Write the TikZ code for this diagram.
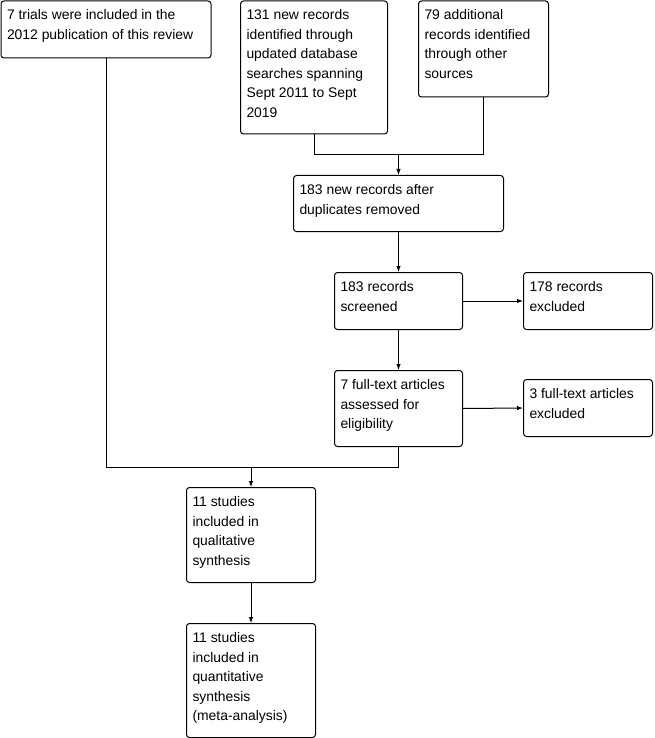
\documentclass[tikz,border=0pt]{standalone}
\usepackage{fontspec}
\setmainfont{Liberation Sans}
\usetikzlibrary{positioning, arrows.meta}

\newcommand{\flowfont}{\fontsize{13.9}{19.5}\selectfont}
\newcommand{\boxtxt}[3]{\parbox[t][#2pt][t]{#1pt}{\raggedright\rule{0pt}{19pt}#3}}

\begin{document}
\begin{tikzpicture}[x=1pt, y=-1pt,
        flowbox/.style={draw, line width=1pt, rounded corners=3pt, anchor=north west,
                        inner xsep=6pt, inner ysep=0pt, font=\flowfont},
        flowline/.style={line width=1pt},
        flowarrow/.style={line width=1pt, -{Latex[length=6pt, width=4.5pt]}}]
    \useasboundingbox (0,0) rectangle (655,738);

    % identification
    \node[flowbox] (oldtrials) at (0.5,0.5) {\boxtxt{198}{57}{7 trials were included in the\\2012 publication of this review}};
    \node[flowbox] (dbrecords) at (240,0.5) {\boxtxt{135}{133}{131 new records\\identified through\\updated database\\searches spanning\\Sept 2011 to Sept\\2019}};
    \node[flowbox] (otherrecords) at (418,0.5) {\boxtxt{118}{96}{79 additional\\records identified\\through other\\sources}};

    % screening
    \node[flowbox] (dedup) at (293,175) {\boxtxt{198}{56}{183 new records after\\duplicates removed}};
    \node[flowbox] (screened) at (334,272) {\boxtxt{116}{57}{183 records\\screened}};
    \node[flowbox] (recexcluded) at (523,272) {\boxtxt{117}{57}{178 records\\excluded}};

    % eligibility
    \node[flowbox] (fulltext) at (334,370) {\boxtxt{116}{76}{7 full-text articles\\assessed for\\eligibility}};
    \node[flowbox] (ftexcluded) at (523,379) {\boxtxt{117}{57}{3 full-text articles\\excluded}};

    % included
    \node[flowbox] (qualitative) at (186,487) {\boxtxt{117}{95}{11 studies\\included in\\qualitative\\synthesis}};
    \node[flowbox] (quantitative) at (186,623) {\boxtxt{117}{114}{11 studies\\included in\\quantitative\\synthesis\\(meta-analysis)}};

    % connectors
    \coordinate (mergetop) at (dedup.north |- 0,155);
    \draw[flowline] (dbrecords.south) |- (otherrecords.south |- mergetop) -- (otherrecords.south);
    \draw[flowarrow] (mergetop) -- (dedup.north);
    \draw[flowarrow] (dedup.south) -- (screened.north);
    \draw[flowarrow] (screened.east) -- (recexcluded.west);
    \draw[flowarrow] (screened.south) -- (fulltext.north);
    \draw[flowarrow] (fulltext.east) -- (ftexcluded.west);

    \coordinate (mergebottom) at (qualitative.north |- 0,467);
    \draw[flowline] (oldtrials.south) |- (fulltext.south |- mergebottom) -- (fulltext.south);
    \draw[flowarrow] (mergebottom) -- (qualitative.north);
    \draw[flowarrow] (qualitative.south) -- (quantitative.north);
\end{tikzpicture}
\end{document}
